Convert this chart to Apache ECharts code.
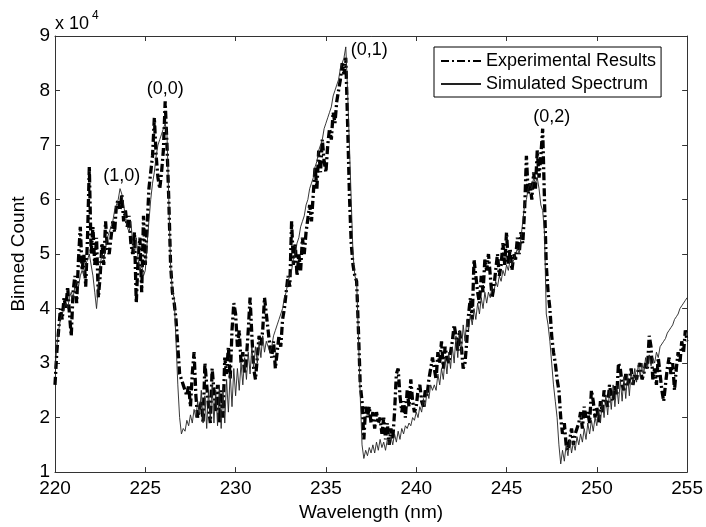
<!DOCTYPE html>
<html>
<head>
<meta charset="utf-8">
<script src="https://cdn.jsdelivr.net/npm/echarts@6/dist/echarts.min.js"></script>
<style>
html,body{margin:0;padding:0;background:#fff;}
#chart{width:706px;height:527px;}
</style>
</head>
<body>
<div id="chart"></div>
<script>
// Wavelength grid: 220.0 .. 255.0 nm, 0.1 nm per sample
const xStart = 220, xStep = 0.1;
// Binned count (x 10^4), experimental results
const expY = [
2.6,3.2,3.6,4.0,3.8,4.2,4.0,4.4,3.9,3.5,
4.3,4.6,4.1,4.9,5.5,4.7,5.0,4.4,5.3,6.6,
5.0,5.5,4.8,5.3,4.2,4.6,5.2,4.8,5.6,5.1,
5.0,5.3,5.6,5.4,5.9,6.0,5.8,6.1,5.6,5.8,
5.5,5.7,5.2,5.0,5.4,4.1,4.9,5.3,4.3,5.7,
4.8,5.5,6.2,6.5,6.8,7.5,6.8,6.4,6.2,6.5,
6.9,7.8,7.0,6.0,4.8,4.3,4.1,3.8,3.3,2.8,
2.7,2.6,2.5,2.4,2.6,2.2,2.8,3.2,2.4,2.0,
2.0,2.3,1.9,3.0,2.6,2.2,1.9,2.9,2.5,2.1,
2.6,1.9,2.5,2.0,3.1,2.8,3.3,2.7,3.6,4.1,
3.9,3.3,3.6,3.0,3.2,2.8,3.1,3.6,4.2,3.5,
2.9,2.7,3.1,3.5,3.3,3.6,4.2,3.9,3.6,3.3,
3.1,3.4,2.9,3.2,3.5,3.3,3.8,4.0,4.3,4.6,
4.4,5.6,4.8,5.2,4.6,5.0,4.7,5.3,5.0,5.4,
5.4,5.9,5.6,6.1,6.6,6.2,6.9,6.5,7.1,6.7,
6.5,7.0,7.3,7.1,7.6,7.4,7.8,8.0,8.2,8.5,
8.3,8.6,7.4,6.1,5.2,4.8,4.6,4.5,3.6,2.6,
2.3,1.6,2.2,2.0,2.2,1.9,2.1,1.8,2.1,1.9,
2.0,1.7,2.0,1.6,1.9,1.5,1.8,1.6,2.1,2.8,
2.9,2.4,2.1,2.3,2.0,2.5,2.2,2.7,2.3,2.1,
2.2,2.5,2.6,2.3,2.2,2.5,2.4,2.7,2.9,3.1,
2.9,2.7,3.2,3.0,3.4,2.9,3.3,3.1,3.0,3.2,
3.4,3.7,3.5,3.2,3.6,3.3,2.9,3.0,3.4,3.9,
4.2,3.8,4.9,4.6,4.3,4.1,4.6,4.3,4.9,4.7,
5.0,4.6,4.2,4.4,4.7,5.0,4.6,4.8,5.2,4.8,
5.4,4.8,5.1,4.7,5.0,4.9,5.3,5.0,5.4,5.2,
5.8,6.8,6.1,6.3,6.0,6.5,6.2,6.9,6.4,6.8,
7.3,6.0,4.8,4.3,4.0,3.5,3.2,3.0,2.7,2.5,
2.0,1.7,1.9,1.5,1.4,1.6,1.8,1.5,1.7,1.8,
1.9,2.1,1.8,2.2,2.0,2.1,1.9,2.5,2.3,2.0,
2.2,1.9,2.3,2.1,2.5,2.3,2.2,2.6,2.4,2.3,
2.6,2.4,3.0,2.9,2.6,2.5,2.8,2.6,2.7,2.9,
2.6,2.8,2.7,2.9,3.0,2.7,2.8,3.0,2.9,3.5,
3.3,2.7,2.9,2.6,3.1,2.8,2.5,2.3,2.6,2.9,
3.1,2.8,3.0,2.5,2.9,3.2,3.0,3.4,3.2,3.6,
3.4
];
// Binned count (x 10^4), simulated spectrum
const simY = [
2.9,3.3,3.6,3.8,3.9,4.0,4.1,4.0,4.2,4.3,
4.2,4.4,4.5,4.4,4.6,4.7,4.6,4.8,4.9,5.0,
5.0,4.6,4.3,4.0,4.4,4.8,5.0,4.9,5.1,5.3,
5.4,5.5,5.6,5.8,5.9,6.0,6.2,6.1,5.9,5.7,
5.5,5.4,5.6,5.2,5.0,5.3,4.9,4.7,4.8,4.6,
4.7,5.2,5.6,6.0,6.3,6.5,6.8,7.0,7.1,7.2,
7.3,7.4,7.2,6.0,4.8,4.3,4.2,3.4,2.6,2.0,
1.7,1.8,1.75,1.95,1.85,2.05,1.9,2.15,2.0,2.3,
2.05,2.5,1.9,2.4,1.8,2.5,1.95,2.6,1.9,2.5,
1.85,2.6,1.8,2.55,1.9,2.7,2.1,2.8,2.2,2.9,
2.4,2.9,2.5,3.0,2.6,3.1,2.7,3.2,2.8,3.3,
2.9,3.3,3.0,3.4,3.1,3.5,3.2,3.4,3.3,3.2,
3.3,3.5,3.6,3.7,3.8,3.9,4.0,4.2,4.3,4.5,
4.6,4.7,4.9,5.0,5.2,5.3,5.5,5.6,5.7,5.9,
6.0,6.2,6.3,6.4,6.6,6.7,6.9,7.0,7.1,7.3,
7.4,7.5,7.6,7.7,7.9,8.0,8.1,8.2,8.4,8.5,
8.6,8.8,8.0,7.0,6.0,5.0,4.6,4.5,3.5,2.4,
1.5,1.25,1.4,1.3,1.45,1.35,1.5,1.35,1.55,1.4,
1.6,1.45,1.55,1.4,1.6,1.5,1.65,1.5,1.7,1.55,
1.75,1.6,1.8,1.7,1.85,1.8,1.9,1.85,2.0,1.95,
2.1,2.0,2.2,2.1,2.35,2.2,2.5,2.35,2.6,2.5,
2.6,2.5,2.8,2.6,2.9,2.7,3.1,2.8,3.2,2.9,
3.3,3.0,3.5,3.1,3.6,3.2,3.7,3.4,3.8,3.6,
3.9,3.7,4.0,3.8,4.1,3.9,4.2,4.0,4.3,4.1,
4.3,4.2,4.4,4.3,4.5,4.4,4.6,4.5,4.7,4.6,
4.8,4.7,4.9,4.8,4.9,5.0,5.1,5.0,5.3,5.6,
5.9,6.0,6.2,6.3,6.2,6.4,6.3,6.4,6.2,5.9,
5.8,5.4,3.9,3.7,3.4,3.0,2.6,2.3,2.0,1.5,
1.15,1.4,1.2,1.5,1.3,1.6,1.35,1.55,1.4,1.65,
1.5,1.7,1.55,1.8,1.6,1.9,1.7,1.95,1.75,2.0,
1.85,2.15,1.9,2.3,2.0,2.4,2.05,2.5,2.15,2.6,
2.2,2.6,2.25,2.7,2.3,2.75,2.35,2.8,2.4,2.85,
2.6,2.9,2.65,3.0,2.75,3.0,2.8,3.1,2.9,3.15,
2.95,3.1,3.0,3.2,3.1,3.3,3.3,3.4,3.45,3.55,
3.6,3.65,3.7,3.8,3.85,3.9,4.0,4.05,4.1,4.15,
4.2
];
// Peak annotations
const annText = ['(1,0)', '(0,0)', '(0,1)', '(0,2)'];
const annX = [223.7, 226.1, 237.4, 247.5];
const annY = [6.43, 8.03, 8.74, 7.52];
// Axis ticks
const xTicks = [220, 225, 230, 235, 240, 245, 250, 255];
const yTicks = [1, 2, 3, 4, 5, 6, 7, 8, 9];
const seriesNames = ['Experimental Results', 'Simulated Spectrum'];

const FONT = "'Liberation Sans', Arial, sans-serif";
const toPairs = arr => arr.map((v, i) => [xStart + i * xStep, v]);

const chart = echarts.init(document.getElementById('chart'), null, {renderer: 'canvas'});
const axisCommon = {
  axisLine: {show: true, lineStyle: {color: '#333', width: 1}},
  axisTick: {show: true, inside: true, length: 5, lineStyle: {color: '#333'}},
  splitLine: {show: false}
};
chart.setOption({
  animation: false,
  backgroundColor: '#fff',
  grid: {left: 55, right: 18, top: 36, bottom: 52, containLabel: false},
  xAxis: [
    Object.assign({
      type: 'value', min: xTicks[0], max: xTicks[xTicks.length - 1], interval: 5,
      name: 'Wavelength (nm)', nameLocation: 'middle', nameGap: 26,
      nameTextStyle: {fontFamily: FONT, fontSize: 19, color: '#000'},
      axisLabel: {fontFamily: FONT, fontSize: 19, color: '#000', margin: 7}
    }, axisCommon),
    Object.assign({
      type: 'value', position: 'top', min: xTicks[0], max: xTicks[xTicks.length - 1], interval: 5,
      axisLabel: {show: false}
    }, axisCommon)
  ],
  yAxis: [
    Object.assign({
      type: 'value', min: yTicks[0], max: yTicks[yTicks.length - 1], interval: 1,
      name: 'Binned Count', nameLocation: 'middle', nameGap: 22,
      nameTextStyle: {fontFamily: FONT, fontSize: 19, color: '#000'},
      axisLabel: {fontFamily: FONT, fontSize: 19, color: '#000', margin: 5}
    }, axisCommon),
    Object.assign({
      type: 'value', position: 'right', min: yTicks[0], max: yTicks[yTicks.length - 1], interval: 1,
      axisLabel: {show: false}
    }, axisCommon)
  ],
  legend: {
    data: seriesNames,
    orient: 'vertical',
    left: 434, top: 47,
    padding: [4, 5, 3, 6],
    itemGap: 3,
    itemWidth: 40, itemHeight: 14,
    borderColor: '#000', borderWidth: 1,
    backgroundColor: '#fff',
    itemStyle: {opacity: 0},
    textStyle: {fontFamily: FONT, fontSize: 18, color: '#000', lineHeight: 20},
    z: 10
  },
  graphic: [
    {type: 'text', x: 55, y: 15, z: 10, style: {text: 'x 10', font: "18px 'Liberation Sans', Arial", fill: '#000'}},
    {type: 'text', x: 92, y: 10, z: 10, style: {text: '4', font: "12px 'Liberation Sans', Arial", fill: '#000'}}
  ],
  series: [
    {
      name: seriesNames[0], type: 'line', symbol: 'none', showSymbol: false,
      data: toPairs(expY),
      lineStyle: {color: '#000', width: 3.3, type: [8, 3, 2, 3]},
      itemStyle: {color: '#000'},
      z: 2
    },
    {
      name: seriesNames[1], type: 'line', symbol: 'none', showSymbol: false,
      data: toPairs(simY),
      lineStyle: {color: '#222', width: 0.9},
      itemStyle: {color: '#222'},
      z: 3
    },
    {
      name: 'labels', type: 'scatter', symbolSize: 0,
      data: annX.map((x, i) => ({value: [x, annY[i]], name: annText[i]})),
      label: {show: true, position: 'inside', formatter: p => p.name,
              fontFamily: FONT, fontSize: 18, color: '#000', opacity: 1},
      itemStyle: {color: '#000', opacity: 1},
      emphasis: {disabled: true},
      silent: true, z: 4
    }
  ]
});
</script>
</body>
</html>
